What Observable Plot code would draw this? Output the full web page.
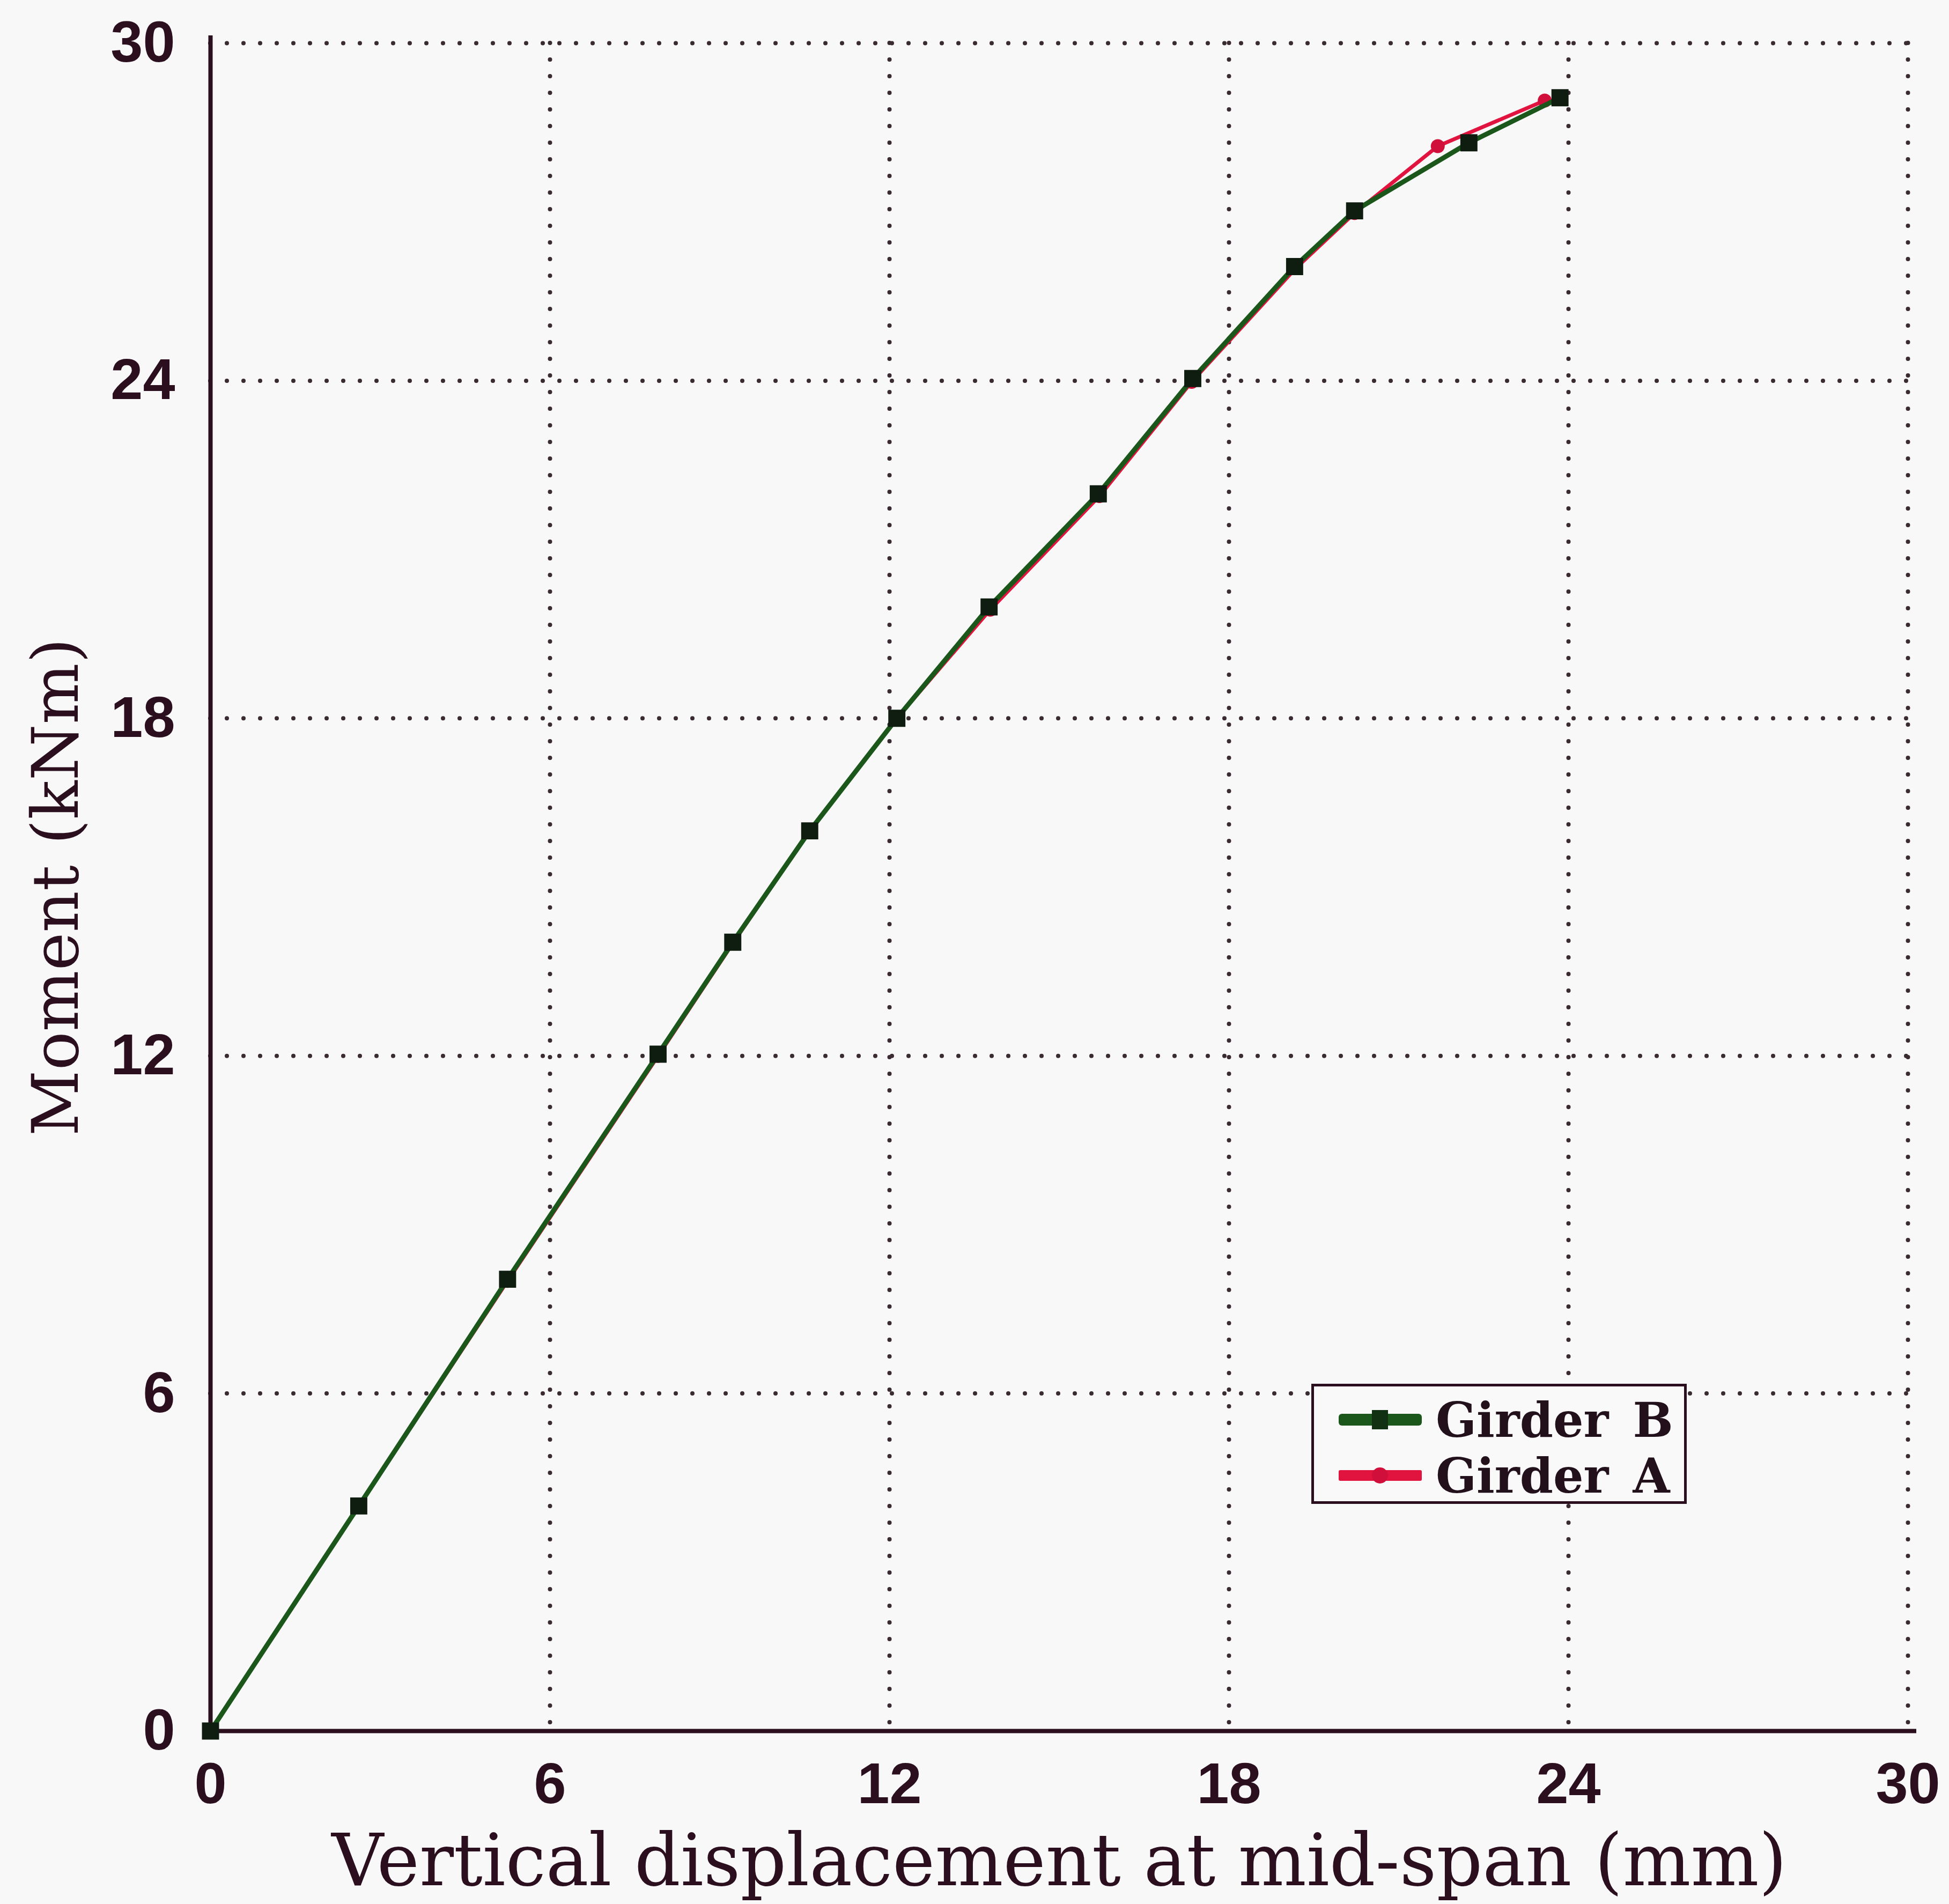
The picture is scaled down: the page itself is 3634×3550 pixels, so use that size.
<!DOCTYPE html>
<html>
<head>
<meta charset="utf-8">
<script src="https://cdn.jsdelivr.net/npm/d3@7"></script>
<script src="https://cdn.jsdelivr.net/npm/@observablehq/plot@0.6"></script>
<style>
  html, body { margin: 0; padding: 0; background: #f8f8f8; }
  #wrap { position: relative; width: 3634px; height: 3550px; overflow: hidden; }
  g[aria-label="x-axis label"] {
    font-family: "DejaVu Serif", serif; font-size: 134px; font-weight: normal;
  }
  g[aria-label="y-axis label"] {
    font-family: "DejaVu Serif", serif; font-size: 120px; font-weight: normal;
  }
  #legend {
    position: absolute; left: 2445px; top: 2580px; width: 690px; height: 214px;
    border: 5px solid #2b0f1f; background: #f9f9f9; box-sizing: content-box;
    font-family: "DejaVu Serif", serif; font-weight: bold; font-size: 89px; color: #22101a;
  }
  .row { position: absolute; left: 0; height: 100px; display: flex; align-items: center; white-space: nowrap; }
  .row svg { margin-left: 46px; margin-right: 26px; flex: none; }
  .row span { word-spacing: 14px; white-space: nowrap; }
</style>
</head>
<body>
<div id="wrap"></div>
<script>
// ---- data ----
const xTicks = [0, 6, 12, 18, 24, 30];
const yTicks = [0, 6, 12, 18, 24, 30];
const xLabel = "Vertical displacement at mid-span (mm)";
const yLabel = "Moment (kNm)";

const seriesNames = ["Girder B", "Girder A"];
const seriesColors = ["#1b561b", "#e0143e"];

const dispB = [0, 2.62, 5.25, 7.91, 9.23, 10.59, 12.13, 13.76, 15.69, 17.36, 19.16, 20.22, 22.24, 23.85];
const momB  = [0, 4.00, 8.03, 12.03, 14.02, 16.00, 18.00, 19.98, 21.99, 24.04, 26.03, 27.02, 28.23, 29.03];
const dispA = [0, 2.62, 5.25, 7.91, 9.23, 10.59, 12.13, 13.78, 15.71, 17.34, 19.18, 20.22, 21.69, 23.58];
const momA  = [0, 4.00, 8.00, 12.00, 14.00, 16.00, 18.00, 19.93, 21.95, 23.98, 26.00, 26.98, 28.17, 28.98];

const dataB = dispB.map((x, i) => ({x, y: momB[i]}));
const dataA = dispA.map((x, i) => ({x, y: momA[i]}));

const ink = "#2b0f1f";
const gridStyle = {stroke: "#3a2a32", strokeOpacity: 1, strokeWidth: 8, strokeDasharray: "0,31", strokeLinecap: "round"};

const chart = Plot.plot({
  width: 3634,
  height: 3550,
  marginLeft: 392,
  marginRight: 77,
  marginTop: 80,
  marginBottom: 323,
  style: {background: "transparent", color: ink, fontFamily: "Liberation Sans, Arial, sans-serif"},
  x: {domain: [0, 30]},
  y: {domain: [0, 30]},
  marks: [
    Plot.gridX(xTicks.filter(d => d > 0), gridStyle),
    Plot.gridY(yTicks.filter(d => d > 0), gridStyle),
    Plot.axisX(xTicks, {tickSize: 0, tickPadding: 58, fontSize: 108, fontWeight: "bold", tickFormat: d3.format("d"),
      label: xLabel, labelAnchor: "center", labelArrow: "none", labelOffset: 287}),
    Plot.axisY(yTicks, {tickSize: 0, tickPadding: 66, fontSize: 108, fontWeight: "bold", tickFormat: d3.format("d"),
      label: yLabel, labelAnchor: "center", labelArrow: "none", labelOffset: 333}),
    Plot.ruleX([0], {stroke: ink, strokeWidth: 8, insetTop: -14}),
    Plot.ruleY([0], {stroke: ink, strokeWidth: 8, insetRight: -16}),
    Plot.line(dataA, {x: "x", y: "y", stroke: seriesColors[1], strokeWidth: 7}),
    Plot.dot(dataA, {x: "x", y: "y", fill: "#d0103a", r: 13, symbol: "circle"}),
    Plot.line(dataB, {x: "x", y: "y", stroke: seriesColors[0], strokeWidth: 9}),
    Plot.dot(dataB, {x: "x", y: "y", fill: "#0f1c10", r: 18, symbol: "square"})
  ]
});

const wrap = document.getElementById("wrap");
wrap.appendChild(chart);

// legend (inside the plot area)
const legend = document.createElement("div");
legend.id = "legend";
const markerSvg = [
  `<svg width="155" height="40"><rect x="0" y="9" width="155" height="22" rx="6" fill="${seriesColors[0]}"/><rect x="62" y="2" width="30" height="36" fill="#123012"/></svg>`,
  `<svg width="155" height="40"><rect x="0" y="10" width="155" height="20" rx="3" fill="${seriesColors[1]}"/><circle cx="77" cy="20" r="15" fill="#d0103a"/></svg>`
];
seriesNames.forEach((name, i) => {
  const row = document.createElement("div");
  row.className = "row";
  row.style.top = (12 + i * 104) + "px";
  row.innerHTML = markerSvg[i] + `<span>${name}</span>`;
  legend.appendChild(row);
});
wrap.appendChild(legend);
</script>
</body>
</html>
